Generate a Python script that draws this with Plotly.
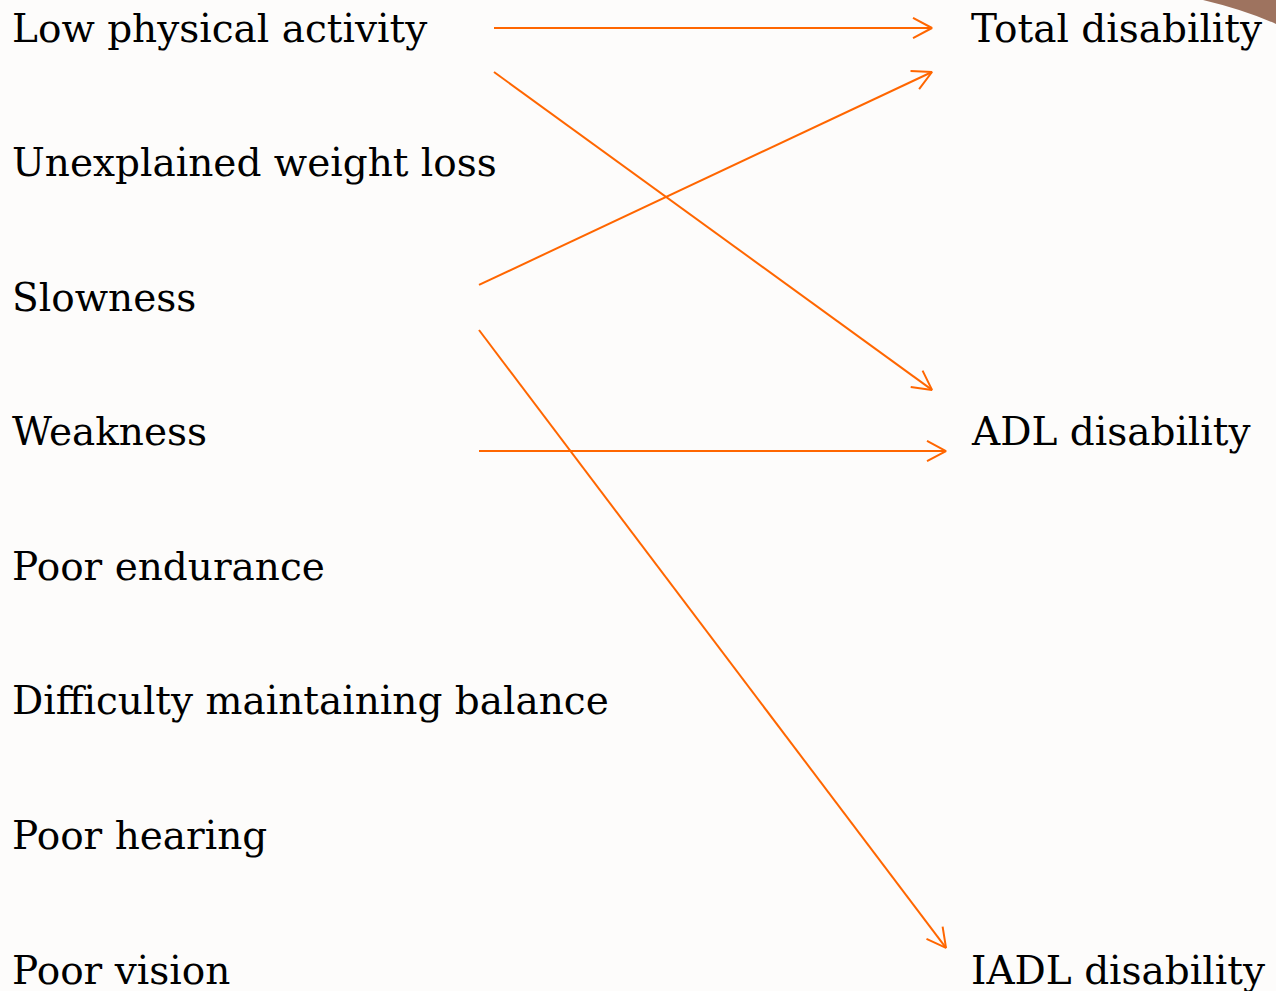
import math
import plotly.graph_objects as go

# ---- data ----
left_labels = [
    "Low physical activity",
    "Unexplained weight loss",
    "Slowness",
    "Weakness",
    "Poor endurance",
    "Difficulty maintaining balance",
    "Poor hearing",
    "Poor vision",
]
right_labels = ["Total disability", "ADL disability", "IADL disability"]
right_rows = [0, 3, 7]

link_source = ["Low physical activity", "Low physical activity", "Slowness", "Slowness", "Weakness"]
link_target = ["Total disability", "ADL disability", "Total disability", "IADL disability", "ADL disability"]

# ---- style (arrow anchor offsets, in row units / px) ----
start_x = [494, 494, 479, 479, 479]
end_x = [932, 932, 932, 946, 946]
start_dy = [0.0, 0.327, -0.091, 0.244, 0.143]
end_dy = [0.0, -0.311, 0.327, -0.165, 0.143]

W, H = 1276, 991
Y_RANGE = [7.155, -0.208]
X_RANGE = [0, W]
ORANGE = "#FF6600"
BG = "#FDFCFB"
FONT = "DejaVu Serif"
FS = 39

px_per_row = H / (Y_RANGE[0] - Y_RANGE[1])

fig = go.Figure()

for s, t, sx, ex, sdy, edy in zip(link_source, link_target, start_x, end_x, start_dy, end_dy):
    r0 = left_labels.index(s) + sdy
    r1 = right_rows[right_labels.index(t)] + edy
    dxp = ex - sx
    dyp = (r1 - r0) * px_per_row
    ang = math.atan2(dyp, dxp)
    L, half = 21.5, math.radians(28)
    wx, wy = [], []
    for sgn in (1, -1):
        a = ang + math.pi + sgn * half
        wx.append(ex + L * math.cos(a))
        wy.append(r1 + L * math.sin(a) / px_per_row)
    fig.add_trace(go.Scatter(
        x=[sx, ex, None, wx[0], ex, wx[1]],
        y=[r0, r1, None, wy[0], r1, wy[1]],
        mode="lines",
        line=dict(color=ORANGE, width=2),
        hoverinfo="skip",
        showlegend=False,
    ))

for i, lab in enumerate(left_labels):
    fig.add_annotation(x=10, y=i, text=lab, showarrow=False, xanchor="left", yanchor="middle",
                       font=dict(family=FONT, size=FS, color="black"))
for lab, r in zip(right_labels, right_rows):
    fig.add_annotation(x=969, y=r, text=lab, showarrow=False, xanchor="left", yanchor="middle",
                       font=dict(family=FONT, size=FS, color="black"))

# decorative corner
fig.add_shape(type="path", xref="paper", yref="paper",
              path=f"M {1203/W},1 Q {1245/W},{1-10/H} 1,{1-24/H} L 1,1 Z",
              fillcolor="#9E735F", line=dict(width=0), layer="below")

fig.update_xaxes(range=X_RANGE, visible=False, fixedrange=True)
fig.update_yaxes(range=Y_RANGE, visible=False, fixedrange=True)
fig.update_layout(
    width=W, height=H,
    margin=dict(l=0, r=0, t=0, b=0),
    paper_bgcolor=BG, plot_bgcolor=BG,
    showlegend=False,
)
fig.write_html(
    "out.html",
    config={"displayModeBar": False},
    post_script="document.body.style.margin='0';document.body.style.overflow='hidden';document.body.style.background='" + BG + "';",
)
